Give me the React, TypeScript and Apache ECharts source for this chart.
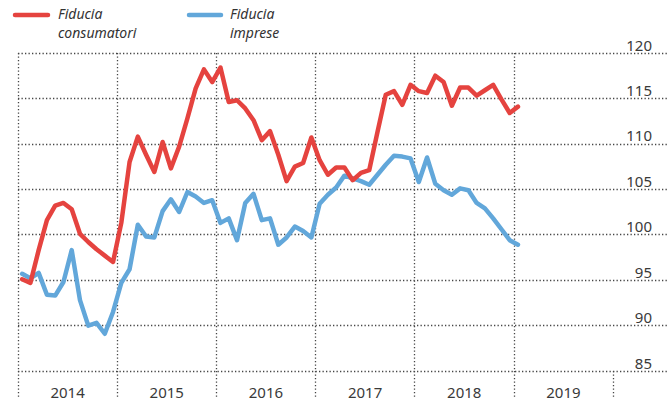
import React, { useEffect, useRef } from "react";
import * as echarts from "echarts";

// Monthly values, Jan 2014 .. Jan 2019
const consumatori = [
  95.1, 94.7, 98.3, 101.6, 103.2, 103.5, 102.8, 100.1, 99.2, 98.4, 97.7, 97.0,
  101.3, 108.0, 110.8, 108.8, 106.9, 110.2, 107.3, 109.7, 112.8, 116.1, 118.2, 116.8,
  118.4, 114.6, 114.8, 113.9, 112.6, 110.4, 111.4, 108.8, 105.9, 107.5, 107.9, 110.7,
  108.2, 106.6, 107.4, 107.4, 106.0, 106.8, 107.1, 111.3, 115.4, 115.8, 114.3, 116.5,
  115.8, 115.6, 117.5, 116.8, 114.2, 116.2, 116.2, 115.3, 115.9, 116.5, 114.9, 113.4,
  114.1,
];
const imprese = [
  95.7, 95.2, 95.8, 93.4, 93.3, 94.8, 98.3, 92.8, 90.0, 90.3, 89.1, 91.5,
  94.7, 96.2, 101.1, 99.8, 99.7, 102.6, 103.9, 102.5, 104.7, 104.2, 103.5, 103.8,
  101.3, 101.8, 99.4, 103.5, 104.5, 101.6, 101.8, 98.9, 99.7, 100.9, 100.4, 99.7,
  103.4, 104.4, 105.2, 106.5, 106.2, 105.9, 105.5, 106.6, 107.7, 108.7, 108.6, 108.4,
  105.8, 108.5, 105.6, 104.9, 104.4, 105.1, 104.9, 103.5, 102.9, 101.8, 100.6, 99.4,
  98.9,
];
const years = ["2014", "2015", "2016", "2017", "2018", "2019"];
const yTicks = { min: 85, max: 120, step: 5 };
const legendLines = [
  ["Fiducia", "consumatori"],
  ["Fiducia", "imprese"],
];

const RED = "#e5433f";
const BLUE = "#62a7da";
const GRID = "#454545";
const FONT = "'Noto Sans', sans-serif";

export default function App() {
  const ref = useRef<HTMLDivElement>(null);
  useEffect(() => {
    if (!ref.current) return;
    const chart = echarts.init(ref.current, undefined, { renderer: "svg" });
    const monthsSpan = years.length * 12; // 72
    const gridLeft = 18;
    const plotRight = 613;
    const width = 668;
    const xMax = (monthsSpan * (width - gridLeft)) / (plotRight - gridLeft);
    const yearTicks = years.map((_, i) => i * 12).concat([monthsSpan]);
    const yearCenters = years.map((_, i) => i * 12 + 6);
    const dotted = { color: GRID, width: 1.3, type: [1.3, 2.2] as any };

    const legendText = (text: string, x: number, y: number) => ({
      type: "text",
      x,
      y,
      style: {
        text,
        fontSize: 14,
        fontStyle: "italic",
        fontFamily: FONT,
        fill: "#333",
      },
    });

    chart.setOption({
      animation: false,
      grid: { left: gridLeft, right: 0, top: 53, bottom: 34, containLabel: false },
      xAxis: {
        type: "value",
        min: 0,
        max: xMax,
        interval: 12,
        axisLine: { show: false },
        axisTick: { show: true, length: 28, lineStyle: dotted, customValues: yearTicks },
        splitLine: { show: true, lineStyle: dotted, showMaxLine: false },
        axisLabel: {
          customValues: yearCenters,
          formatter: (v: number) => {
            const i = Math.round((v - 6) / 12);
            return Math.abs(v - (i * 12 + 6)) < 0.01 && years[i] ? years[i] : "";
          },
          margin: 13,
          fontSize: 15,
          color: "#3a3a3a",
          fontFamily: FONT,
        },
      },
      yAxis: {
        type: "value",
        position: "right",
        min: yTicks.min,
        max: yTicks.max,
        interval: yTicks.step,
        axisLine: { show: false },
        axisTick: { show: false },
        splitLine: { show: true, lineStyle: dotted },
        axisLabel: {
          inside: true,
          margin: 16,
          fontSize: 15,
          color: "#3a3a3a",
          fontFamily: FONT,
          verticalAlign: "bottom",
          padding: [0, 0, 1, 0],
        },
      },
      graphic: [
        {
          type: "line",
          shape: { x1: 15, y1: 15, x2: 48, y2: 15 },
          style: { stroke: RED, lineWidth: 4.5, lineCap: "round" },
        },
        legendText(legendLines[0][0], 58, 6),
        legendText(legendLines[0][1], 58, 25.5),
        {
          type: "line",
          shape: { x1: 189, y1: 15, x2: 221, y2: 15 },
          style: { stroke: BLUE, lineWidth: 4.5, lineCap: "round" },
        },
        legendText(legendLines[1][0], 230, 6),
        legendText(legendLines[1][1], 230, 25.5),
      ],
      series: [
        {
          name: legendLines[1].join(" "),
          type: "line",
          data: imprese.map((v, i) => [i + 0.5, v]),
          symbol: "none",
          lineStyle: { color: BLUE, width: 4.5, join: "round", cap: "round" },
        },
        {
          name: legendLines[0].join(" "),
          type: "line",
          data: consumatori.map((v, i) => [i + 0.5, v]),
          symbol: "none",
          lineStyle: { color: RED, width: 4.5, join: "round", cap: "round" },
        },
      ],
    });
    return () => chart.dispose();
  }, []);
  return (
    <div
      ref={ref}
      style={{ position: "fixed", left: 0, top: 0, width: 668, height: 405, background: "#fff" }}
    />
  );
}
